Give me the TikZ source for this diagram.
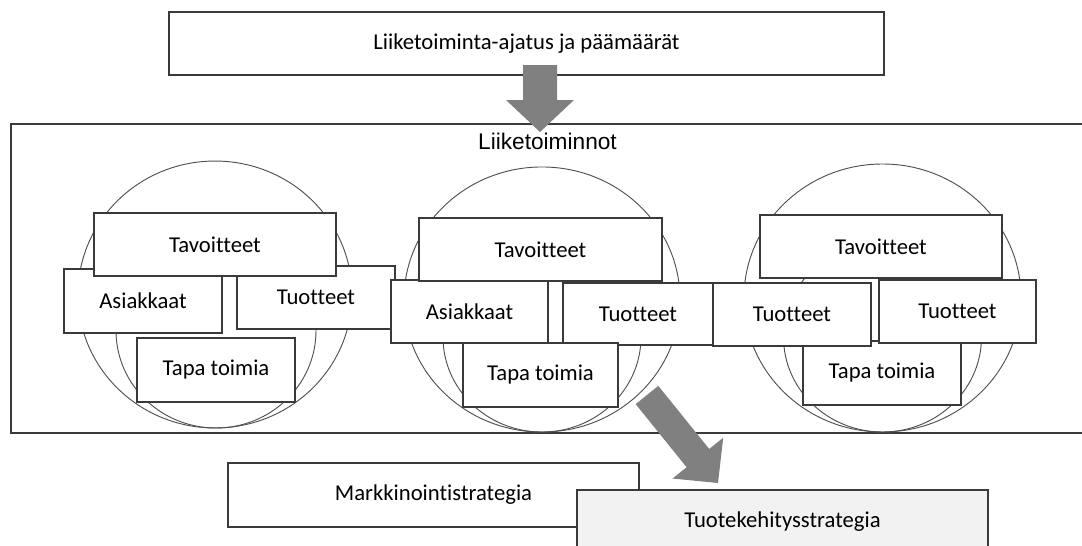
\documentclass[tikz,border=0pt]{standalone}
\usepackage{fontspec}
\setmainfont{Carlito}[Ligatures=NoCommon]
\newfontfamily\arialfont{Liberation Sans}
\usetikzlibrary{calc}
\definecolor{edge}{HTML}{3A3A3A}
\definecolor{ringline}{HTML}{505050}
\definecolor{arrowgray}{HTML}{808080}
\definecolor{pale}{HTML}{F2F2F2}
% block arrow from #1 (tail centre) to #2 (tip): shaft half width #3,
% head half width #4, head length #5
\newcommand\drawblockarrow[5]{%
  \fill[arrowgray]
    ($(#1)!#3!90:(#2)$) --
    ($(#2)!#5!(#1)!#3!-90:(#1)$) --
    ($(#2)!#5!(#1)!#4!-90:(#1)$) --
    (#2) --
    ($(#2)!#5!(#1)!#4!90:(#1)$) --
    ($(#2)!#5!(#1)!#3!90:(#1)$) --
    ($(#1)!#3!-90:(#2)$) -- cycle;}
% rectangle node given by its corners (x1,y1) and (x2,y2)
\newcommand\boxnode[7][]{%
  \node[box,#1,minimum width={(#5-#3)*0.75pt},minimum height={(#6-#4)*0.75pt}]
    (#2) at ({(#3+#5)/2},{(#4+#6)/2}) {#7};}
\begin{document}
\begin{tikzpicture}[x=0.75pt,y=-0.75pt,
  box/.style={draw=edge,line width=1pt,fill=white,inner sep=0pt,
              font=\fontsize{17}{20}\selectfont},
  ring/.style={draw=ringline,line width=0.7pt}]
\useasboundingbox (0,0) rectangle (1082,546);
\clip (0,0) rectangle (1082,546);

% outer frame of the business units
\boxnode[fill=none]{units}{11}{124}{1100}{433}{}
\node[inner sep=0pt,font={\arialfont\fontsize{17}{20}\selectfont}] (unitstitle) at (547.5,141.5) {Liiketoiminnot};

% top box
\boxnode{mission}{169}{12}{884}{75}{Liiketoiminta-ajatus ja päämäärät}

% circles of the three units
\draw[ring] (215,294.5) ellipse [x radius=102.75pt, y radius=100.1pt];
\draw[ring] (216,330.6) ellipse [x radius=75pt, y radius=73.05pt];
\draw[ring] (542,299.5) ellipse [x radius=103.5pt, y radius=99.4pt];
\draw[ring] (542,337) ellipse [x radius=74.25pt, y radius=71.25pt];
\draw[ring] (882.5,298) ellipse [x radius=103.9pt, y radius=100.5pt];
\draw[ring] (882.5,337) ellipse [x radius=74.25pt, y radius=71.25pt];

% unit 1
\boxnode{asiakkaat1}{64}{269}{222}{333}{Asiakkaat}
\boxnode{tuotteet1}{237}{266}{395}{329}{Tuotteet}
\boxnode{tapa1}{137}{338}{295}{402}{Tapa toimia}
\boxnode{tavoitteet1}{94}{213}{336}{276}{Tavoitteet}

% unit 2
\boxnode{asiakkaat2}{391}{280}{548}{343}{Asiakkaat}
\boxnode{tuotteet2}{563}{283}{713}{345}{Tuotteet}
\boxnode{tapa2}{463}{343}{618}{407}{Tapa toimia}
\boxnode{tavoitteet2}{419}{218}{662}{281}{Tavoitteet}

% unit 3
\boxnode{tavoitteet3}{760}{215}{1002}{278}{Tavoitteet}
\boxnode{tapa3}{803}{341}{961}{405}{Tapa toimia}
\boxnode{tuotteet3a}{713}{283}{871}{346}{Tuotteet}
\boxnode{tuotteet3b}{879}{280}{1036}{343}{Tuotteet}

% strategies
\boxnode{markkinointi}{228}{463}{639}{527}{Markkinointistrategia}
\boxnode[fill=pale]{tuotekehitys}{577}{490}{988}{554}{Tuotekehitysstrategia}

% block arrows
\coordinate (topfrom) at (540,65);
\coordinate (topto) at (540,132);
\drawblockarrow{topfrom}{topto}{12.75pt}{25.5pt}{24pt}
\coordinate (lowfrom) at (647,395);
\coordinate (lowto) at (718,483);
\drawblockarrow{lowfrom}{lowto}{10.9pt}{24.4pt}{24pt}
\end{tikzpicture}
\end{document}
